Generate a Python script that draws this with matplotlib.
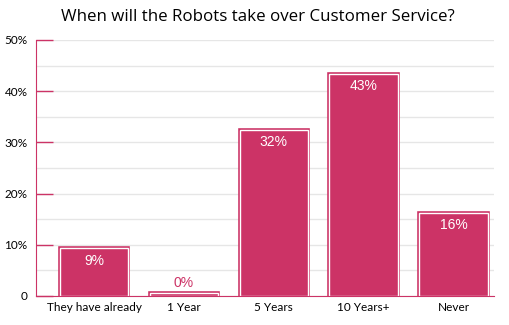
import matplotlib
matplotlib.use("Agg")
import matplotlib.pyplot as plt
from matplotlib.ticker import FixedLocator

categories = ["They have already", "1 Year", "5 Years", "10 Years+", "Never"]
values = [9.3, 0.5, 32.4, 43.3, 16.3]
labels = ["9%", "0%", "32%", "43%", "16%"]
yticks = [0, 10, 20, 30, 40, 50]
yticklabels = ["0", "10%", "20%", "30%", "40%", "50%"]

pink = "#CC3366"

fig = plt.figure(figsize=(5.1, 3.25), dpi=100)
ax = fig.add_axes([36/510, (325-296)/325, (494-36)/510, 256/325])

x = list(range(len(categories)))
ax.bar(x, values, width=0.76, color=pink, edgecolor=pink, linewidth=2.6, zorder=3)
ax.bar(x, values, width=0.76, color=pink, edgecolor="white", linewidth=1.0, zorder=4)

for xi, v, lab in zip(x, values, labels):
    if v > 3:
        ax.text(xi, v - 1.0, lab, ha="center", va="top", color="white",
                fontsize=10, family="Liberation Sans", zorder=5)
    else:
        ax.text(xi, v + 0.6, lab, ha="center", va="bottom", color=pink,
                fontsize=10, family="Liberation Sans", zorder=5)

ax.set_xlim(-0.645, 4.45)
ax.set_ylim(0, 50)
ax.yaxis.set_major_locator(FixedLocator(yticks))
ax.set_yticklabels(yticklabels, family="Lato", fontsize=8.5)
ax.yaxis.set_minor_locator(FixedLocator([5, 15, 25, 35, 45]))
ax.tick_params(axis="y", which="major", direction="in", length=12, color=pink, width=1, pad=6)
ax.tick_params(axis="y", which="minor", length=0)
ax.set_xticks(x)
ax.set_xticklabels(categories, family="Lato", fontsize=8.5)
ax.tick_params(axis="x", length=0, pad=4)

ax.grid(axis="y", which="both", color="#E6E6E6", linewidth=1, zorder=0)
ax.set_axisbelow(True)
for s in ["top", "right"]:
    ax.spines[s].set_visible(False)
ax.spines["left"].set_color(pink)
ax.spines["bottom"].set_color(pink)
ax.spines["left"].set_zorder(6)
ax.spines["bottom"].set_zorder(6)

fig.text(258/510, 1 - 17/325, "When will the Robots take over Customer Service?",
         ha="center", va="center", fontsize=12.2, family="Open Sans")

fig.savefig("out.png", dpi=100)
